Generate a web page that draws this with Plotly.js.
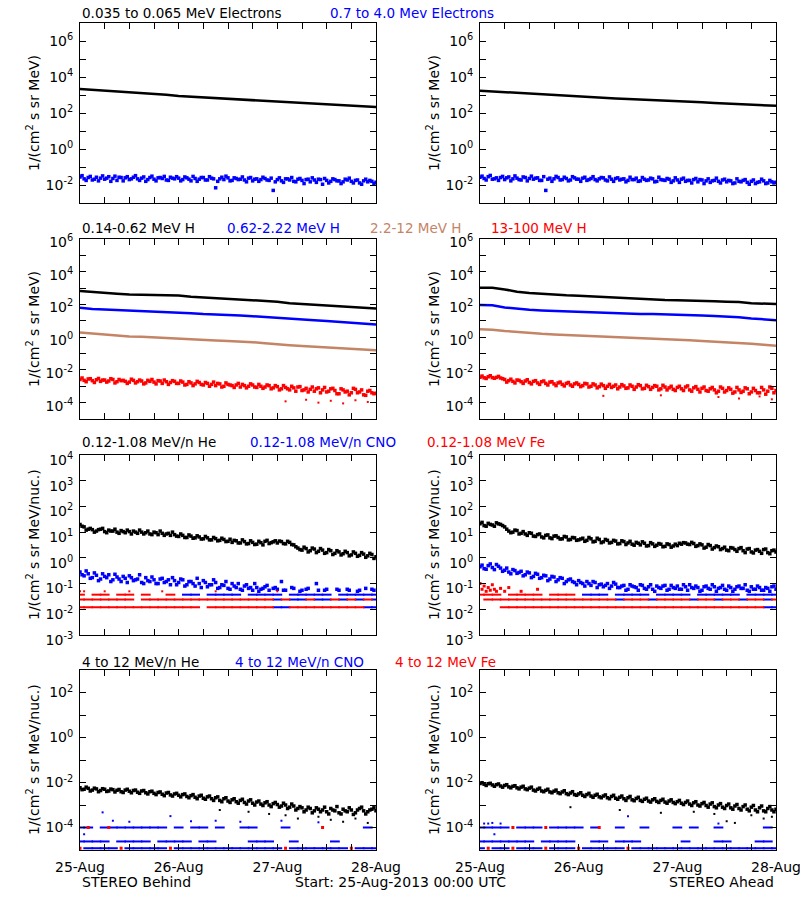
<!DOCTYPE html>
<html><head><meta charset="utf-8">
<script src="https://cdn.plot.ly/plotly-3.0.1.min.js"></script>
<style>html,body{margin:0;padding:0;background:#fff}#chart{width:800px;height:900px}</style>
</head><body><div id="chart"></div>
<script>
// ---------- time grids (hours since 25-Aug-2013 00:00 UTC) ----------
const tSmooth = [0,3,6,9,12,15,18,21,24,27,30,33,36,39,42,45,48,51,54,57,60,63,66,69,72];
const tHourly = Array.from({length:73},(_,i)=>i);
const tHalf = Array.from({length:72},(_,i)=>i+0.5);
const tQuant = Array.from({length:37},(_,i)=>2*i);
const dayHours = [0,24,48,72];
const dayLabels = ['25-Aug','26-Aug','27-Aug','28-Aug'];
const quarterDayHours = [6,12,18,30,36,42,54,60,66];

// ---------- Row 1: electrons ----------
const eLoB = [2140,1950,1780,1620,1480,1320,1180,1020,870,800,720,660,600,560,510,470,430,390,355,325,295,275,250,235,215];
const eLoA = [1740,1580,1410,1290,1175,1070,980,870,795,740,690,645,600,550,515,480,445,415,390,365,340,310,290,270,250];
const eHiB = [0.028,0.022,0.026,0.019,0.027,0.024,0.021,0.029,0.023,0.018,0.026,0.025,0.020,0.027,0.022,0.024,0.016,0.026,0.021,0.025,0.023,0.019,0.027,0.022,
  0.024,0.020,0.025,0.017,0.023,0.021,0.026,0.019,0.024,0.007,0.022,0.020,0.025,0.018,0.023,0.021,0.019,0.024,0.017,0.022,0.020,0.023,0.018,0.005,
  0.020,0.017,0.022,0.019,0.016,0.021,0.018,0.020,0.015,0.019,0.021,0.011,0.018,0.016,0.020,0.017,0.015,0.019,0.016,0.018,0.013,0.017,0.015,0.016,0.014];
const eHiB2 = [0.033,0.018,0.030,0.021,0.017,0.032,0.024,0.016,0.031,0.027,0.017,0.029,0.022,0.033,0.018,0.028,0.020,0.031,0.017,0.026,0.030,0.018,0.024,0.029,
  0.017,0.028,0.021,0.030,0.016,0.026,0.019,0.029,0.022,0.016,0.027,0.031,0.017,0.025,0.020,0.028,0.015,0.026,0.021,0.016,0.027,0.019,0.024,0.015,
  0.025,0.014,0.022,0.026,0.015,0.023,0.012,0.021,0.025,0.014,0.020,0.023,0.013,0.022,0.017,0.012,0.021,0.024,0.013,0.019,0.011,0.021,0.018,0.012];
const eHiA = [0.027,0.023,0.029,0.021,0.025,0.026,0.020,0.028,0.022,0.024,0.019,0.026,0.023,0.021,0.025,0.018,0.005,0.024,0.022,0.026,0.020,0.023,0.019,0.025,
  0.021,0.024,0.018,0.023,0.020,0.022,0.025,0.017,0.021,0.023,0.019,0.022,0.018,0.020,0.024,0.017,0.021,0.019,0.022,0.016,0.020,0.018,0.021,0.017,
  0.019,0.021,0.016,0.018,0.020,0.015,0.019,0.017,0.014,0.018,0.016,0.019,0.015,0.017,0.013,0.016,0.018,0.014,0.016,0.012,0.015,0.017,0.013,0.015,0.014];
const eHiA2 = [0.031,0.019,0.034,0.022,0.018,0.030,0.025,0.017,0.032,0.020,0.028,0.017,0.031,0.024,0.018,0.029,0.021,0.016,0.030,0.019,0.027,0.017,0.029,0.021,
  0.016,0.027,0.020,0.029,0.017,0.026,0.019,0.028,0.016,0.025,0.021,0.015,0.027,0.020,0.016,0.026,0.018,0.024,0.015,0.027,0.019,0.023,0.014,0.025,
  0.014,0.024,0.018,0.013,0.023,0.020,0.012,0.022,0.017,0.024,0.013,0.021,0.018,0.012,0.022,0.015,0.020,0.011,0.019,0.014,0.021,0.012,0.018,0.013];

// ---------- Row 2: protons ----------
const hLoB = [661,562,501,447,407,398,380,372,355,295,269,240,214,195,174,162,148,120,110,98,85,78,69,62,56];
const hMidB = [62,52,49,46,42,38,35,34,32,29,26,25,23,21,19,16.6,14.5,13.2,11.7,10.7,9.8,8.7,7.6,6.6,5.9];
const hHiB = [1.95,1.66,1.41,1.20,1.12,1.05,0.98,0.91,0.85,0.76,0.69,0.63,0.58,0.54,0.49,0.42,0.35,0.32,0.29,0.26,0.23,0.21,0.195,0.174,0.158];
const hVHB = [2.6e-3,2.3e-3,2.8e-3,2.2e-3,2.5e-3,2.0e-3,2.4e-3,2.1e-3,2.6e-3,1.9e-3,2.2e-3,2.0e-3,1.8e-3,2.3e-3,1.9e-3,2.1e-3,1.6e-3,2.0e-3,1.8e-3,2.2e-3,1.5e-3,1.9e-3,1.7e-3,2.0e-3,
  1.5e-3,1.8e-3,1.3e-3,1.6e-3,1.4e-3,1.7e-3,1.2e-3,1.5e-3,1.3e-3,1.1e-3,1.4e-3,1.0e-3,1.3e-3,1.1e-3,1.2e-3,0.9e-3,1.1e-3,1.0e-3,1.2e-3,0.85e-3,1.0e-3,0.9e-3,1.1e-3,0.8e-3,
  0.95e-3,0.7e-3,0.85e-3,0.6e-3,0.8e-3,0.9e-3,0.55e-3,0.75e-3,0.65e-3,0.5e-3,0.8e-3,0.6e-3,0.45e-3,0.7e-3,0.55e-3,0.35e-3,0.6e-3,0.5e-3,0.4e-3,0.65e-3,0.45e-3,0.3e-3,0.5e-3,0.4e-3,0.38e-3];
const hVHB2 = [3.2e-3,1.9e-3,2.9e-3,1.7e-3,3.0e-3,2.4e-3,1.8e-3,2.9e-3,1.6e-3,2.6e-3,2.3e-3,1.5e-3,2.7e-3,1.6e-3,2.4e-3,1.4e-3,2.3e-3,2.6e-3,1.4e-3,2.1e-3,2.4e-3,1.3e-3,2.2e-3,1.5e-3,
  2.1e-3,1.2e-3,1.9e-3,1.1e-3,2.0e-3,1.3e-3,1.7e-3,1.0e-3,1.8e-3,1.5e-3,0.9e-3,1.6e-3,1.2e-3,0.85e-3,1.5e-3,1.3e-3,0.8e-3,1.4e-3,0.9e-3,1.3e-3,0.75e-3,1.2e-3,0.7e-3,1.1e-3,
  0.6e-3,1.1e-3,0.7e-3,1.0e-3,0.5e-3,0.95e-3,0.6e-3,0.45e-3,0.9e-3,0.7e-3,0.4e-3,0.85e-3,0.5e-3,0.75e-3,0.35e-3,0.7e-3,0.45e-3,0.3e-3,0.75e-3,0.4e-3,0.6e-3,0.28e-3,0.55e-3,0.35e-3];
const hVHBoutT = [50,55,58,61,64,67,70];
const hVHBoutV = [1.2e-4,1.5e-4,1.0e-4,1.3e-4,0.9e-4,1.4e-4,1.1e-4];
const hLoA = [1047,1047,832,603,501,437,398,363,339,309,282,257,229,204,191,186,182,178,174,158,148,141,120,112,105];
const hMidA = [91,89,66,54,47,43,40,37,35,33,31,29,27.5,26.3,25.7,25.1,24.5,22.9,21.4,20.0,19.1,16.6,14.1,12.6,11.0];
const hHiA = [3.09,2.88,2.40,2.04,1.82,1.62,1.48,1.38,1.32,1.20,1.10,1.00,0.93,0.87,0.81,0.76,0.72,0.66,0.59,0.54,0.49,0.44,0.40,0.34,0.30];
const hVHA = [3.6e-3,3.3e-3,3.8e-3,3.4e-3,3.5e-3,3.2e-3,2.6e-3,2.2e-3,2.0e-3,2.4e-3,1.9e-3,2.1e-3,1.7e-3,2.0e-3,1.6e-3,1.9e-3,1.5e-3,1.8e-3,1.4e-3,1.6e-3,1.3e-3,1.5e-3,1.2e-3,1.4e-3,
  1.3e-3,1.1e-3,1.4e-3,1.0e-3,1.2e-3,0.95e-3,1.1e-3,1.0e-3,0.85e-3,1.2e-3,0.9e-3,1.05e-3,0.8e-3,1.0e-3,0.9e-3,1.1e-3,0.75e-3,0.95e-3,0.85e-3,1.0e-3,0.7e-3,0.9e-3,0.8e-3,0.65e-3,
  0.85e-3,0.7e-3,0.9e-3,0.6e-3,0.8e-3,0.65e-3,0.75e-3,0.55e-3,0.7e-3,0.6e-3,0.5e-3,0.75e-3,0.55e-3,0.65e-3,0.45e-3,0.6e-3,0.5e-3,0.7e-3,0.45e-3,0.55e-3,0.4e-3,0.6e-3,0.5e-3,0.75e-3,0.55e-3];
const hVHA2 = [4.2e-3,3.0e-3,4.4e-3,3.1e-3,4.0e-3,2.9e-3,1.8e-3,2.7e-3,1.6e-3,2.3e-3,1.5e-3,2.5e-3,1.4e-3,2.2e-3,1.3e-3,2.1e-3,1.2e-3,1.9e-3,1.1e-3,1.8e-3,1.05e-3,1.7e-3,1.0e-3,1.6e-3,
  0.95e-3,1.5e-3,0.9e-3,1.4e-3,0.8e-3,1.35e-3,0.75e-3,1.3e-3,1.0e-3,0.7e-3,1.25e-3,0.75e-3,1.2e-3,0.65e-3,1.25e-3,0.7e-3,1.15e-3,0.65e-3,1.1e-3,0.6e-3,1.15e-3,0.6e-3,1.0e-3,0.55e-3,
  1.0e-3,0.55e-3,1.05e-3,0.5e-3,0.95e-3,0.45e-3,0.9e-3,0.5e-3,0.85e-3,0.4e-3,0.9e-3,0.45e-3,0.8e-3,0.38e-3,0.85e-3,0.42e-3,0.8e-3,0.35e-3,0.75e-3,0.4e-3,0.85e-3,0.33e-3,0.9e-3,0.4e-3];
const hVHAoutT = [30,44,58,63,68,71];
const hVHAoutV = [2.6e-4,2.8e-4,2.2e-4,1.8e-4,2.4e-4,1.6e-4];

// ---------- Row 3: 0.12-1.08 MeV/n ions ----------
const heB = [20,16,13,12.5,11,13,10.5,12,11,10,11.5,9.5,10.5,11,9,10,9.5,8.5,10,8,9,8.5,7.5,8,
  6.8,7.5,6.2,7,6,6.5,5.5,6,5,5.6,4.8,5.2,4.4,4.0,4.6,3.8,4.3,3.6,4.0,3.4,3.9,4.4,3.6,4.2,
  3.8,4.3,3.5,4.0,3.2,2.4,2.0,2.3,1.9,2.2,1.8,2.0,1.6,1.9,1.5,1.7,1.45,1.6,1.3,1.5,1.25,1.4,1.2,1.35,1.1];
const heB2 = [17,12,14,10,12.5,14,9.5,11,13,9,10.5,12,8.5,10,12,8.5,11,8,9.5,11,7.5,9,10,7,
  8.5,6.2,7.8,5.8,7.2,5.4,6.8,5,6.2,4.6,5.8,4.3,5.3,4.8,3.8,5,3.5,4.6,3.3,4.4,3.2,4.8,3.9,4.6,
  4.5,3.6,4.4,3.3,2.7,2.1,2.6,1.7,2.4,1.6,2.3,1.5,2.1,1.35,1.9,1.3,1.8,1.2,1.7,1.15,1.6,1.05,1.5,0.95];
const cnoB = [0.28,0.2,0.24,0.17,0.21,0.15,0.19,0.22,0.14,0.18,0.12,0.16,0.2,0.13,0.15,0.11,0.17,0.12,0.14,0.1,0.16,0.12,0.09,0.13,
  0.11,0.14,0.09,0.12,0.08,0.1,0.13,0.075,0.09,0.11,0.07,0.085,0.065,0.1,0.07,0.06,0.08,0.065,0.055,0.07,0.06,0.075,0.055,0.065,
  0.06,0.12,0.055,null,0.065,null,0.055,0.06,null,null,0.055,null,0.06,null,null,0.055,null,0.06,null,null,0.055,null,null,0.06,null];
const cnoB2 = [0.22,0.31,0.16,0.26,0.13,0.24,0.17,0.12,0.23,0.15,0.19,0.11,0.17,0.14,0.22,0.1,0.13,0.18,0.1,0.15,0.11,0.14,0.17,0.09,
  0.15,0.08,0.12,0.1,0.16,0.07,0.11,0.09,0.14,0.065,0.09,0.12,0.06,0.08,0.1,0.055,0.09,0.07,0.1,0.05,0.065,0.085,null,0.07,
  null,0.055,null,0.07,null,0.05,null,0.065,null,0.1,null,0.055,null,null,0.06,null,null,0.055,null,0.05,null,0.065,null,0.055];
const cnoBq3 = [null,null,null,null,null,null,null,null,null,null,null,null,null,0.037,0.037,null,0.037,0.037,0.037,0.037,null,0.037,0.037,0.037,0.037,null,0.037,0.037,0.037,0.037,0.037,null,0.037,0.037,0.037,0.037,0.037];
const cnoBq2 = [null,null,null,null,null,null,null,null,null,null,null,null,null,null,null,null,null,null,null,null,null,null,null,null,0.024,null,0.024,0.024,null,0.024,0.024,null,0.024,null,0.024,null,0.024];
const cnoBq1 = [null,null,null,null,null,null,null,null,null,null,null,null,null,null,null,null,null,null,null,null,null,null,null,null,0.012,0.012,null,null,null,null,null,null,null,null,null,0.012,0.012];
const feBq3 = [0.037,null,0.037,0.037,null,0.037,0.037,null,0.037,null,null,0.037,null,null,null,null,null,null,null,null,null,null,null,null,null,null,null,null,null,null,null,null,null,null,null,null,null];
const feBq2 = [0.024,0.024,0.024,0.024,0.024,0.024,0.024,null,0.024,0.024,0.024,0.024,0.024,0.024,0.024,0.024,0.024,0.024,0.024,0.024,0.024,0.024,0.024,0.024,null,0.024,null,null,0.024,null,null,0.024,null,0.024,null,0.024,null];
const feBq1 = [0.012,0.012,0.012,0.012,0.012,0.012,0.012,0.012,0.012,0.012,0.012,0.012,0.012,0.012,0.012,null,0.012,0.012,0.012,0.012,0.012,0.012,0.012,0.012,null,null,0.012,0.012,0.012,0.012,0.012,0.012,0.012,0.012,0.012,null,null];
const feBptT = [0,1,6,12,20,33,48];
const feBptV = [0.05,0.05,0.05,0.05,0.05,0.05,0.05];

const heA = [21,18,22,19,23,20,16,11,10,11.5,9,8.5,9.5,7,8,6.5,7.5,6,7,6.2,5.5,6.5,5.2,6,
  5.0,5.8,4.8,5.5,4.4,5.2,4.2,4.8,4.0,4.5,3.6,4.3,3.8,3.4,4.0,3.2,3.7,3.0,3.5,3.1,3.4,2.8,3.3,2.9,
  3.0,3.4,3.8,3.3,3.6,3.0,3.2,2.6,3.0,2.5,2.7,2.3,2.0,2.5,2.1,2.3,1.9,2.2,1.7,2.0,1.8,2.1,1.6,1.9,1.7];
const heA2 = [24,17,20,17,21,18,13,9.5,12,8.5,10.5,7.5,9,6.8,8.5,6,7.8,5.6,7.2,5.4,6.8,5,6.2,4.8,
  5.4,4.4,6.2,4.2,5.8,3.9,5.2,3.8,4.8,3.5,4.6,3.3,4.4,3.1,3.7,4.2,2.9,3.9,2.8,3.6,2.7,3.5,2.6,3.4,
  3.7,3.9,3.4,4.0,2.8,3.5,2.4,3.3,2.2,2.9,2.1,2.6,1.9,2.4,1.8,2.5,1.6,2.3,1.55,2.1,1.5,2.2,1.45,2.0];
const cnoA = [0.45,0.38,0.5,0.42,0.55,0.4,0.33,0.28,0.35,0.25,0.3,0.22,0.26,0.19,0.23,0.17,0.2,0.15,0.18,0.14,0.16,0.12,0.15,0.11,
  0.13,0.1,0.12,0.085,0.11,0.09,0.075,0.1,0.08,0.095,0.07,0.085,0.06,0.08,0.07,0.09,0.065,0.075,0.06,0.08,0.065,0.085,0.06,0.07,
  0.08,0.06,0.075,0.09,0.065,0.07,0.055,0.08,0.06,0.075,0.065,0.085,0.055,0.07,0.06,0.08,0.065,0.055,0.075,0.06,0.07,0.055,0.065,0.075,0.06];
const cnoA2 = [0.52,0.36,0.58,0.35,0.47,0.3,0.4,0.24,0.32,0.27,0.2,0.28,0.17,0.25,0.16,0.21,0.13,0.19,0.12,0.17,0.1,0.14,0.12,0.09,
  0.11,0.08,0.1,0.12,0.07,0.095,0.085,0.065,0.11,0.07,0.08,0.055,0.09,0.075,0.055,0.085,0.06,0.09,0.05,0.07,0.08,0.055,0.085,0.065,
  0.06,0.09,0.055,0.07,0.08,0.05,0.075,0.065,0.09,0.05,0.07,0.06,0.08,0.05,0.075,0.065,0.09,0.05,0.06,0.08,0.055,0.07,0.05,0.08];
const cnoAq3 = [null,null,null,null,null,null,null,null,null,null,null,null,null,0.037,0.037,0.037,null,0.037,0.037,0.037,0.037,null,0.037,0.037,0.037,0.037,null,0.037,0.037,0.037,0.037,0.037,null,0.037,0.037,0.037,0.037];
const cnoAq2 = [null,null,null,null,null,null,null,null,null,null,null,null,null,null,null,null,null,0.024,null,null,null,0.024,null,null,null,null,0.024,null,null,0.024,null,null,0.024,null,null,0.024,null];
const cnoAq1 = [null,null,null,null,null,null,null,null,null,null,null,null,null,null,null,null,null,null,null,null,null,null,null,null,null,null,null,null,null,null,null,null,null,null,null,0.012,0.012];
const feAq3 = [0.037,0.037,0.037,null,0.037,0.037,0.037,0.037,null,0.037,0.037,0.037,null,null,null,null,null,null,null,null,null,null,null,null,null,null,null,null,null,null,null,null,null,null,null,null,null];
const feAq2 = [null,0.024,0.024,0.024,0.024,0.024,0.024,0.024,0.024,0.024,0.024,0.024,0.024,0.024,0.024,0.024,0.024,null,0.024,0.024,0.024,null,0.024,0.024,0.024,0.024,null,0.024,0.024,null,0.024,0.024,null,0.024,0.024,null,0.024];
const feAq1 = [null,null,null,0.012,0.012,0.012,0.012,0.012,0.012,0.012,0.012,0.012,0.012,0.012,0.012,0.012,0.012,0.012,0.012,0.012,0.012,0.012,0.012,0.012,0.012,0.012,0.012,0.012,0.012,0.012,0.012,0.012,0.012,0.012,0.012,null,null];
const feAptT = [0,0.5,1,1.5,2,2.5,3,3.5,4,5,6,7,10,14];
const feAptV = [0.1,0.06,0.08,0.05,0.07,0.055,0.09,0.06,0.05,0.065,0.05,0.07,0.05,0.06];

// ---------- Row 4: 4-12 MeV/n ions ----------
const he4B = [5.8e-3,5.0e-3,5.5e-3,4.6e-3,5.2e-3,4.4e-3,5.0e-3,4.2e-3,4.8e-3,4.5e-3,3.9e-3,4.6e-3,4.1e-3,4.4e-3,3.7e-3,4.2e-3,3.5e-3,3.9e-3,3.3e-3,3.6e-3,3.0e-3,3.4e-3,2.8e-3,3.1e-3,
  2.7e-3,2.9e-3,2.4e-3,2.6e-3,2.2e-3,2.5e-3,2.0e-3,2.3e-3,1.9e-3,2.1e-3,1.6e-3,1.9e-3,1.5e-3,1.7e-3,1.4e-3,1.6e-3,1.3e-3,1.5e-3,1.2e-3,1.35e-3,1.1e-3,1.25e-3,1.0e-3,1.15e-3,
  1.05e-3,0.9e-3,1.0e-3,0.8e-3,0.9e-3,0.7e-3,0.75e-3,0.6e-3,0.7e-3,0.55e-3,0.65e-3,0.6e-3,0.5e-3,0.7e-3,0.55e-3,0.45e-3,0.65e-3,0.5e-3,0.6e-3,0.45e-3,0.7e-3,0.55e-3,0.5e-3,0.65e-3,0.55e-3];
const he4B2 = [4.8e-3,6.2e-3,4.2e-3,5.6e-3,3.9e-3,5.3e-3,4.0e-3,5.1e-3,3.8e-3,4.9e-3,3.6e-3,5.0e-3,3.5e-3,4.6e-3,3.3e-3,4.4e-3,3.1e-3,4.1e-3,2.9e-3,3.8e-3,2.6e-3,3.6e-3,2.5e-3,3.3e-3,
  2.3e-3,3.1e-3,2.1e-3,2.9e-3,1.9e-3,2.7e-3,1.8e-3,2.5e-3,1.6e-3,2.3e-3,1.4e-3,2.1e-3,1.3e-3,1.9e-3,1.2e-3,1.8e-3,1.1e-3,1.7e-3,1.0e-3,1.5e-3,0.95e-3,1.4e-3,0.85e-3,1.3e-3,
  0.8e-3,1.2e-3,0.7e-3,1.1e-3,0.6e-3,0.85e-3,0.5e-3,0.8e-3,0.45e-3,0.75e-3,0.5e-3,0.8e-3,0.4e-3,0.6e-3,0.85e-3,0.4e-3,0.55e-3,0.75e-3,0.38e-3,0.6e-3,0.8e-3,0.4e-3,0.6e-3,0.75e-3];
const he4BoutT = [34,41,46,50,53,58,61,64,67,70];
const he4BoutV = [6e-4,5e-4,4e-4,3.5e-4,2.5e-4,3e-4,2.2e-4,1.8e-4,2.5e-4,1.6e-4];
const cno4Bq3 = [1e-4,1e-4,null,1e-4,1e-4,1e-4,1e-4,1e-4,1e-4,1e-4,1e-4,null,1e-4,null,1e-4,1e-4,null,1e-4,null,null,1e-4,1e-4,null,null,null,1e-4,null,null,null,null,null,null,null,null,null,1e-4,null];
const cno4Bq2 = [2.4e-5,2.4e-5,2.4e-5,2.4e-5,null,2.4e-5,2.4e-5,2.4e-5,2.4e-5,null,2.4e-5,2.4e-5,2.4e-5,2.4e-5,null,2.4e-5,2.4e-5,null,null,null,null,2.4e-5,2.4e-5,2.4e-5,null,null,2.4e-5,null,null,null,null,2.4e-5,null,null,null,null,null];
const cno4Bq1 = [null,1.2e-5,1.2e-5,1.2e-5,1.2e-5,null,1.2e-5,1.2e-5,1.2e-5,1.2e-5,1.2e-5,null,1.2e-5,1.2e-5,1.2e-5,1.2e-5,1.2e-5,1.2e-5,1.2e-5,1.2e-5,1.2e-5,1.2e-5,1.2e-5,1.2e-5,1.2e-5,null,1.2e-5,1.2e-5,1.2e-5,1.2e-5,1.2e-5,1.2e-5,1.2e-5,null,1.2e-5,1.2e-5,1.2e-5];
const cno4BptT = [1,5.5,8,12,22,27,33,39,49,58];
const cno4BptV = [5e-5,4.7e-4,2e-4,1.8e-4,3.2e-4,1.9e-4,2e-4,1.8e-4,2e-4,1.7e-4];
const fe4BT = [0,2,7,10,22,50,59,66];
const fe4BV = [1.2e-5,1e-4,1e-4,1.2e-5,1.2e-5,1.2e-5,1e-4,1.2e-5];

const he4A = [9.0e-3,8.4e-3,8.8e-3,7.8e-3,8.0e-3,7.0e-3,7.4e-3,6.4e-3,6.8e-3,5.8e-3,6.2e-3,5.2e-3,5.6e-3,4.6e-3,5.0e-3,4.2e-3,4.5e-3,3.8e-3,4.1e-3,3.5e-3,3.8e-3,3.2e-3,3.4e-3,2.9e-3,
  3.1e-3,2.7e-3,2.9e-3,2.5e-3,2.7e-3,2.3e-3,2.5e-3,2.1e-3,2.4e-3,2.0e-3,2.2e-3,1.9e-3,2.1e-3,1.7e-3,1.95e-3,1.6e-3,1.8e-3,1.5e-3,1.7e-3,1.45e-3,1.6e-3,1.35e-3,1.5e-3,1.3e-3,
  1.4e-3,1.2e-3,1.3e-3,1.1e-3,1.25e-3,1.0e-3,1.15e-3,0.95e-3,1.1e-3,0.85e-3,1.0e-3,0.8e-3,0.95e-3,0.75e-3,0.9e-3,0.7e-3,0.85e-3,0.65e-3,0.8e-3,0.6e-3,0.75e-3,0.55e-3,0.7e-3,0.6e-3,0.65e-3];
const he4A2 = [9.8e-3,7.4e-3,9.2e-3,6.8e-3,8.6e-3,6.2e-3,8.0e-3,5.8e-3,7.2e-3,5.2e-3,6.8e-3,4.8e-3,6.2e-3,4.2e-3,5.6e-3,3.9e-3,5.0e-3,3.5e-3,4.6e-3,3.2e-3,4.3e-3,2.9e-3,3.9e-3,2.7e-3,
  3.5e-3,2.4e-3,3.3e-3,2.2e-3,3.0e-3,2.1e-3,2.8e-3,1.9e-3,2.7e-3,1.8e-3,2.5e-3,1.6e-3,2.4e-3,1.55e-3,2.2e-3,1.45e-3,2.0e-3,1.35e-3,1.9e-3,1.3e-3,1.8e-3,1.2e-3,1.7e-3,1.15e-3,
  1.6e-3,1.05e-3,1.5e-3,0.95e-3,1.4e-3,0.9e-3,1.3e-3,0.8e-3,1.25e-3,0.75e-3,1.15e-3,0.7e-3,1.1e-3,0.65e-3,1.05e-3,0.6e-3,1.0e-3,0.55e-3,0.95e-3,0.5e-3,0.9e-3,0.5e-3,0.85e-3,0.5e-3];
const he4AoutT = [22,34,44,52,57,60,62,66,69,71];
const he4AoutV = [8e-4,6e-4,4.5e-4,5e-4,4e-4,1.9e-4,1.6e-4,3.5e-4,2.5e-4,3e-4];
const cno4Aq3 = [1e-4,1e-4,1e-4,1e-4,null,1e-4,1e-4,1e-4,null,1e-4,1e-4,1e-4,1e-4,null,1e-4,null,null,1e-4,null,null,1e-4,null,null,null,1e-4,null,1e-4,null,null,1e-4,null,null,null,null,null,1e-4,null];
const cno4Aq2 = [2.4e-5,2.4e-5,2.4e-5,2.4e-5,2.4e-5,2.4e-5,2.4e-5,null,2.4e-5,2.4e-5,2.4e-5,2.4e-5,null,null,2.4e-5,2.4e-5,null,2.4e-5,2.4e-5,2.4e-5,null,null,null,null,null,2.4e-5,null,null,null,2.4e-5,2.4e-5,null,null,null,2.4e-5,2.4e-5,null];
const cno4Aq1 = [1.2e-5,null,1.2e-5,1.2e-5,null,1.2e-5,1.2e-5,1.2e-5,null,1.2e-5,1.2e-5,1.2e-5,null,1.2e-5,1.2e-5,1.2e-5,1.2e-5,1.2e-5,null,1.2e-5,1.2e-5,1.2e-5,1.2e-5,1.2e-5,1.2e-5,1.2e-5,1.2e-5,1.2e-5,1.2e-5,1.2e-5,1.2e-5,1.2e-5,1.2e-5,1.2e-5,1.2e-5,1.2e-5,1.2e-5];
const cno4AptT = [1,2,3,3.5,5,36,58];
const cno4AptV = [1.5e-4,1.5e-4,1.6e-4,5e-5,1.5e-4,3.2e-4,1.5e-4];
const fe4AT = [2,8,8,16,16,24,29,36];
const fe4AV = [1.2e-5,1e-4,1.2e-5,1e-4,1.2e-5,1.2e-5,1e-4,1.2e-5];

// ---------- labels ----------
const legendRows = [
  [['0.035 to 0.065 MeV Electrons',80,'#000000'],['0.7 to 4.0 Mev Electrons',328,'#0000ff']],
  [['0.14-0.62 MeV H',80,'#000000'],['0.62-2.22 MeV H',225,'#0000ff'],['2.2-12 MeV H',368,'#c48466'],['13-100 MeV H',489,'#ff0000']],
  [['0.12-1.08 MeV/n He',80,'#000000'],['0.12-1.08 MeV/n CNO',248,'#0000ff'],['0.12-1.08 MeV Fe',425,'#ff0000']],
  [['4 to 12 MeV/n He',80,'#000000'],['4 to 12 MeV/n CNO',233,'#0000ff'],['4 to 12 MeV Fe',393,'#ff0000']]
];
const yTitles = ['1/(cm<sup>2</sup> s sr MeV)','1/(cm<sup>2</sup> s sr MeV)','1/(cm<sup>2</sup> s sr MeV/nuc.)','1/(cm<sup>2</sup> s sr MeV/nuc.)'];

// ---------- layout geometry (pixels) ----------
const W = 800, H = 900;
const colPx = [[80,376],[480,776]];
const rowPx = [[23,203],[239,419],[455,635],[670,850]];
const rowLogRange = [[-3,7],[-5,6],[-3,4],[-5,3]];
const rowLabelEvery = [2,2,1,2];
const rowLabelShift = [0,3,5,0];
const legendY = [13,228,442,662];

const BLACK='#000000', BLUE='#0000ff', SIENNA='#c48466', RED='#ff0000';
function ax(i){ return i===1 ? '' : String(i); }
function pts(i,x,y,color,size){ return {type:'scatter',mode:'markers',x:x,y:y,xaxis:'x'+ax(i),yaxis:'y'+ax(i),marker:{symbol:'square',size:size||3.5,color:color,line:{width:0}},hoverinfo:'skip',showlegend:false}; }
function line(i,x,y,color){ return {type:'scatter',mode:'lines',x:x,y:y,xaxis:'x'+ax(i),yaxis:'y'+ax(i),line:{color:color,width:2.5},hoverinfo:'skip',showlegend:false}; }
function dash(i,y,color){ return {type:'scatter',mode:'markers',x:tQuant,y:y,xaxis:'x'+ax(i),yaxis:'y'+ax(i),marker:{symbol:'line-ew',size:7,color:color,line:{width:2,color:color}},hoverinfo:'skip',showlegend:false}; }

const data = [
  line(1,tSmooth,eLoB,BLACK), pts(1,tHourly,eHiB,BLUE), pts(1,tHalf,eHiB2,BLUE),
  line(2,tSmooth,eLoA,BLACK), pts(2,tHourly,eHiA,BLUE), pts(2,tHalf,eHiA2,BLUE),
  line(3,tSmooth,hLoB,BLACK), line(3,tSmooth,hMidB,BLUE), line(3,tSmooth,hHiB,SIENNA), pts(3,tHourly,hVHB,RED), pts(3,tHalf,hVHB2,RED), pts(3,hVHBoutT,hVHBoutV,RED,2),
  line(4,tSmooth,hLoA,BLACK), line(4,tSmooth,hMidA,BLUE), line(4,tSmooth,hHiA,SIENNA), pts(4,tHourly,hVHA,RED), pts(4,tHalf,hVHA2,RED), pts(4,hVHAoutT,hVHAoutV,RED,2),
  pts(5,tHourly,heB,BLACK), pts(5,tHalf,heB2,BLACK), pts(5,tHourly,cnoB,BLUE), pts(5,tHalf,cnoB2,BLUE),
  dash(5,cnoBq3,BLUE), dash(5,cnoBq2,BLUE), dash(5,cnoBq1,BLUE),
  dash(5,feBq3,RED), dash(5,feBq2,RED), dash(5,feBq1,RED), pts(5,feBptT,feBptV,RED,2),
  pts(6,tHourly,heA,BLACK), pts(6,tHalf,heA2,BLACK), pts(6,tHourly,cnoA,BLUE), pts(6,tHalf,cnoA2,BLUE),
  dash(6,cnoAq3,BLUE), dash(6,cnoAq2,BLUE), dash(6,cnoAq1,BLUE),
  dash(6,feAq3,RED), dash(6,feAq2,RED), dash(6,feAq1,RED), pts(6,feAptT,feAptV,RED,3),
  pts(7,tHourly,he4B,BLACK), pts(7,tHalf,he4B2,BLACK), pts(7,he4BoutT,he4BoutV,BLACK,2),
  dash(7,cno4Bq3,BLUE), dash(7,cno4Bq2,BLUE), dash(7,cno4Bq1,BLUE), pts(7,cno4BptT,cno4BptV,BLUE,2), pts(7,fe4BT,fe4BV,RED,3),
  pts(8,tHourly,he4A,BLACK), pts(8,tHalf,he4A2,BLACK), pts(8,he4AoutT,he4AoutV,BLACK,2),
  dash(8,cno4Aq3,BLUE), dash(8,cno4Aq2,BLUE), dash(8,cno4Aq1,BLUE), pts(8,cno4AptT,cno4AptV,BLUE,2), pts(8,fe4AT,fe4AV,RED,3)
];

const FONT = 'DejaVu Sans';
const layout = {
  width:W, height:H, margin:{l:0,r:0,t:0,b:0}, paper_bgcolor:'#fff', plot_bgcolor:'#fff',
  font:{family:FONT,size:14,color:'#000'}, showlegend:false, annotations:[]
};

for (let r=0;r<4;r++){
  const [lo,hi] = rowLogRange[r];
  const majV=[], majT=[], minV=[];
  for (let e=lo;e<=hi;e++){
    if (rowLabelEvery[r]===1 || e%2===0){ majV.push(Math.pow(10,e)); majT.push('10<sup>'+e+'</sup>'); }
    else minV.push(Math.pow(10,e));
  }
  for (let c=0;c<2;c++){
    const i = r*2+c+1;
    layout['xaxis'+ax(i)] = {
      domain:[colPx[c][0]/W, colPx[c][1]/W], anchor:'y'+ax(i), range:[0,72], fixedrange:true,
      showgrid:false, zeroline:false, showline:true, linecolor:'#000', linewidth:1, mirror:'ticks',
      ticks:'inside', ticklen:6, tickwidth:1, tickcolor:'#000', tickmode:'array', tickvals:dayHours, ticktext:dayLabels,
      minor:{tickmode:'array', tickvals:quarterDayHours, ticks:'inside', ticklen:6, tickwidth:1, tickcolor:'#000', showgrid:false},
      showticklabels: r===3, ticklabeloverflow:'allow', tickfont:{family:FONT,size:14,color:'#000'}, ticklabelstandoff:4
    };
    layout['yaxis'+ax(i)] = {
      domain:[1-rowPx[r][1]/H, 1-rowPx[r][0]/H], anchor:'x'+ax(i), type:'log', range:[lo,hi], fixedrange:true,
      showgrid:false, zeroline:false, showline:true, linecolor:'#000', linewidth:1, mirror:'ticks',
      ticks:'inside', ticklen:6, tickwidth:1, tickcolor:'#000', tickmode:'array', tickvals:majV, ticktext:majT,
      minor: minV.length ? {tickmode:'array', tickvals:minV, ticks:'inside', ticklen:6, tickwidth:1, tickcolor:'#000', showgrid:false} : undefined,
      tickfont:{family:FONT,size:14,color:'#000'}, ticklabelstandoff:3, ticklabelshift:rowLabelShift[r]
    };
    layout.annotations.push({xref:'paper',yref:'paper',x:(colPx[c][0]-47)/W,y:1-((rowPx[r][0]+rowPx[r][1])/2)/H,
      text:yTitles[r],textangle:-90,showarrow:false,xanchor:'center',yanchor:'middle',font:{family:FONT,size:14,color:'#000'}});
  }
  legendRows[r].forEach(([txt,px,col]) => layout.annotations.push({xref:'paper',yref:'paper',x:px/W,y:1-legendY[r]/H,
    text:txt,showarrow:false,xanchor:'left',yanchor:'middle',font:{family:FONT,size:13.5,color:col}}));
}
layout.annotations.push({xref:'paper',yref:'paper',x:80/W,y:1-882/H,text:'STEREO Behind',showarrow:false,xanchor:'left',yanchor:'middle'});
layout.annotations.push({xref:'paper',yref:'paper',x:293/W,y:1-882/H,text:'Start: 25-Aug-2013 00:00 UTC',showarrow:false,xanchor:'left',yanchor:'middle'});
layout.annotations.push({xref:'paper',yref:'paper',x:776/W,y:1-882/H,text:'STEREO Ahead',showarrow:false,xanchor:'right',yanchor:'middle'});

Plotly.newPlot('chart', data, layout, {staticPlot:true, displayModeBar:false});
</script></body></html>
